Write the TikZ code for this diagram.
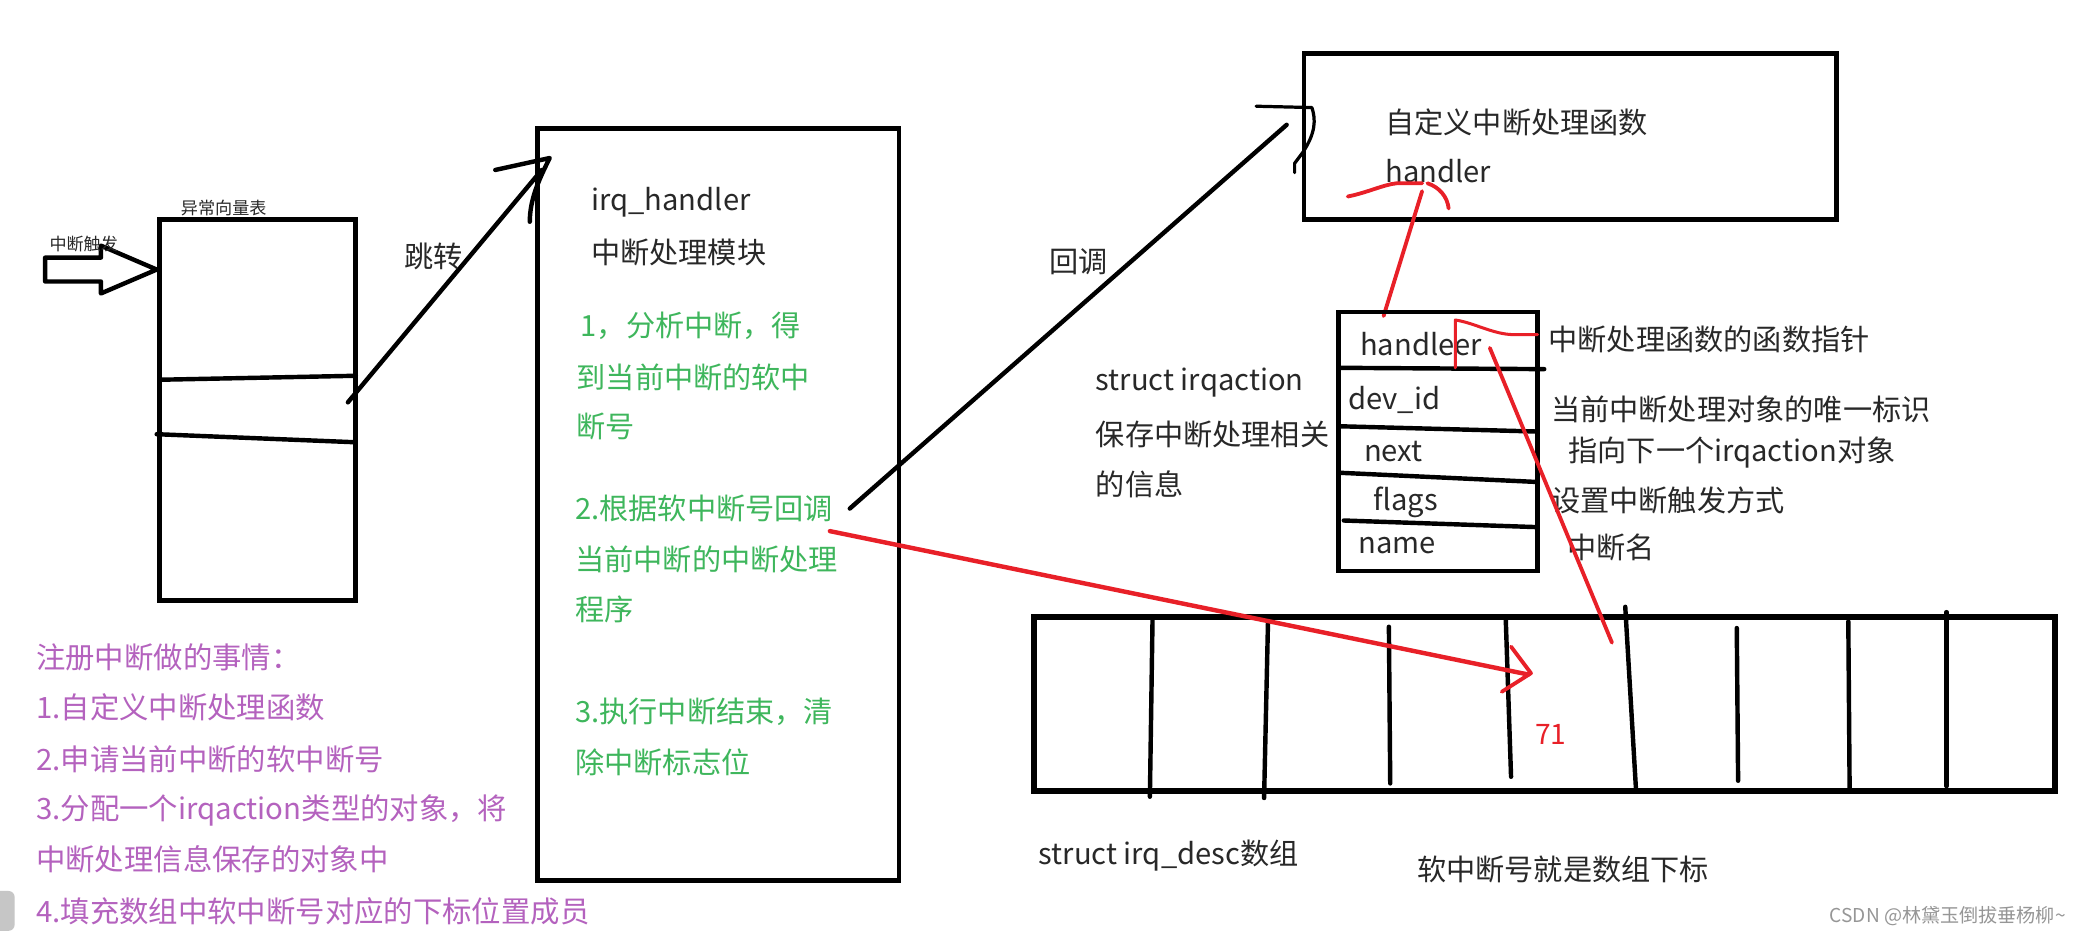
\documentclass[tikz,border=0pt]{standalone}
\usepackage{fontspec}
\setmainfont{Noto Sans CJK SC}
\definecolor{myred}{RGB}{232,32,40}
\definecolor{mygreen}{RGB}{62,182,92}
\definecolor{mypurple}{RGB}{180,98,190}
\definecolor{mydark}{RGB}{40,40,40}
\definecolor{mygray}{RGB}{150,150,150}
\begin{document}
\begin{tikzpicture}[x=0.66pt,y=-0.66pt,
  box/.style={draw=black, line width=2.4pt},
  ink/.style={draw=black, line width=2.2pt, line cap=round, line join=round},
  redink/.style={draw=myred, line width=1.9pt, line cap=round, line join=round},
  txt/.style={anchor=west, inner sep=0pt, font=\fontsize{14.5}{17}\selectfont, text=mydark},
  small/.style={anchor=west, inner sep=0pt, font=\fontsize{8.5}{10}\selectfont, text=mydark},
  gtxt/.style={txt, text=mygreen},
  ptxt/.style={txt, font=\fontsize{14.6}{18}\selectfont, text=mypurple}]
\useasboundingbox (0,0) rectangle (1568,703);
\fill[white] (0,0) rectangle (1568,703);

% ---------- exception vector table ----------
\draw[box] (120,165) rectangle (268,452);
\draw[ink] (120,286) -- (268,283);
\draw[ink] (118,327) -- (266,333);
\draw[ink] (34,194) -- (76,194) -- (76,185) -- (118,203) -- (76,221) -- (76,212) -- (34,212) -- cycle;
\node[small] (vtlabel) at (136,157) {异常向量表};
\node[small] (trig) at (37,184) {中断触发};

% ---------- jump ----------
\coordinate (j0) at (262,303);
\coordinate (j1) at (408,128);
\draw[ink] (j0) -- (j1);
\draw[ink] (373,128) -- (414,119) .. controls (406,135) and (399,150) .. (399,167);
\node[txt] (jump) at (304,193) {跳转};

% ---------- irq_handler box ----------
\draw[box] (405,97) rectangle (677,663);
\node[txt] (ih1) at (445,152) {irq\_handler};
\node[txt] (ih2) at (445,190) {中断处理模块};
\node[gtxt] (g1) at (437,245) {1，分析中断，得};
\node[gtxt] (g2) at (434,284) {到当前中断的软中};
\node[gtxt] (g3) at (434,321) {断号};
\node[gtxt] (g4) at (433,383) {2.根据软中断号回调};
\node[gtxt] (g5) at (433,421) {当前中断的中断处理};
\node[gtxt] (g6) at (433,459) {程序};
\node[gtxt] (g7) at (433,536) {3.执行中断结束，清};
\node[gtxt] (g8) at (433,574) {除中断标志位};

% ---------- callback ----------
\coordinate (c0) at (640,383);
\coordinate (c1) at (969,94);
\draw[ink] (c0) -- (c1);
\draw[ink, line width=1.6pt] (946,80) -- (988,81) .. controls (991,90) and (991,100) .. (981,115) -- (975,123) -- (975,130);
\node[txt] (cb) at (790,197) {回调};

% ---------- user handler box ----------
\draw[box] (982,40) rectangle (1383,165);
\node[txt] (uh1) at (1043,92) {自定义中断处理函数};
\node[txt] (uh2) at (1043,129) {handler};
\draw[redink] (1015,148) .. controls (1030,145) and (1042,139) .. (1052,138) -- (1071,138);
\draw[redink] (1075,138) .. controls (1084,141) and (1090,148) .. (1091,157);
\coordinate (r0) at (1071,144);
\coordinate (r1) at (1042,238);
\draw[redink] (r0) -- (r1);

% ---------- struct irqaction ----------
\node[txt] (sa1) at (825,288) {struct irqaction};
\node[txt] (sa2) at (825,327) {保存中断处理相关};
\node[txt] (sa3) at (825,365) {的信息};
\draw[box] (1008,235) rectangle (1158,430);
\draw[ink] (1008,277) -- (1163,278);
\draw[ink] (1008,321) -- (1158,325);
\draw[ink] (1008,356) -- (1158,363);
\draw[ink] (1012,392) -- (1158,397);
\node[txt] (f1) at (1024,259) {handleer};
\node[txt] (f2) at (1015,301) {dev\_id};
\node[txt] (f3) at (1027,340) {next};
\node[txt] (f4) at (1034,378) {flags};
\node[txt] (f5) at (1023,411) {name};
\node[txt] (d1) at (1166,256) {中断处理函数的函数指针};
\node[txt] (d2) at (1168,308) {当前中断处理对象的唯一标识};
\node[txt] (d3) at (1181,341) {指向下一个irqaction对象};
\node[txt] (d4) at (1168,377) {设置中断触发方式};
\node[txt] (d5) at (1180,412) {中断名};
\draw[redink, line width=1.5pt] (1096,277) -- (1096,241) .. controls (1110,243) and (1125,252) .. (1140,252) -- (1158,252);

% ---------- irq_desc array ----------
\draw[box, line width=3pt] (779,465) rectangle (1548,596);
\draw[ink] (868,466) -- (866,600);
\draw[ink] (955,466) -- (952,601);
\draw[ink] (1046,472) -- (1047,590);
\draw[ink] (1134,466) -- (1138,585);
\draw[ink] (1224,457) -- (1232,593);
\draw[ink] (1308,473) -- (1309,588);
\draw[ink] (1392,468) -- (1393,596);
\draw[ink] (1466,461) -- (1466,592);
\node[anchor=center, inner sep=0pt, font=\fontsize{14}{16}\selectfont, text=myred] (n71) at (1168,553) {71};

% red links
\coordinate (a0) at (625,400);
\coordinate (a1) at (1151,508);
\draw[redink, line width=2.2pt] (a0) -- (a1);
\draw[redink] (1138,487) -- (1153,507) -- (1131,521);
\coordinate (b0) at (1122,262);
\coordinate (b1) at (1214,484);
\draw[redink] (b0) -- (b1);

\node[txt] (arr1) at (782,644) {struct irq\_desc数组};
\node[txt] (arr2) at (1067,655) {软中断号就是数组下标};

% ---------- register notes ----------
\node[ptxt] (p0) at (27,495) {注册中断做的事情：};
\node[ptxt] (p1) at (27,533) {1.自定义中断处理函数};
\node[ptxt] (p2) at (27,572) {2.申请当前中断的软中断号};
\node[ptxt] (p3) at (27,610) {3.分配一个irqaction类型的对象，将};
\node[ptxt] (p4) at (27,647) {中断处理信息保存的对象中};
\node[ptxt] (p5) at (27,686) {4.填充数组中软中断号对应的下标位置成员};

% watermark and corner icon
\node[anchor=east, inner sep=0pt, font=\fontsize{9.5}{11}\selectfont, text=mygray] (wm) at (1556,690) {CSDN @林黛玉倒拔垂杨柳\textasciitilde};
\fill[gray!45, rounded corners=3pt] (-10,671) rectangle (11,701);
\end{tikzpicture}
\end{document}
